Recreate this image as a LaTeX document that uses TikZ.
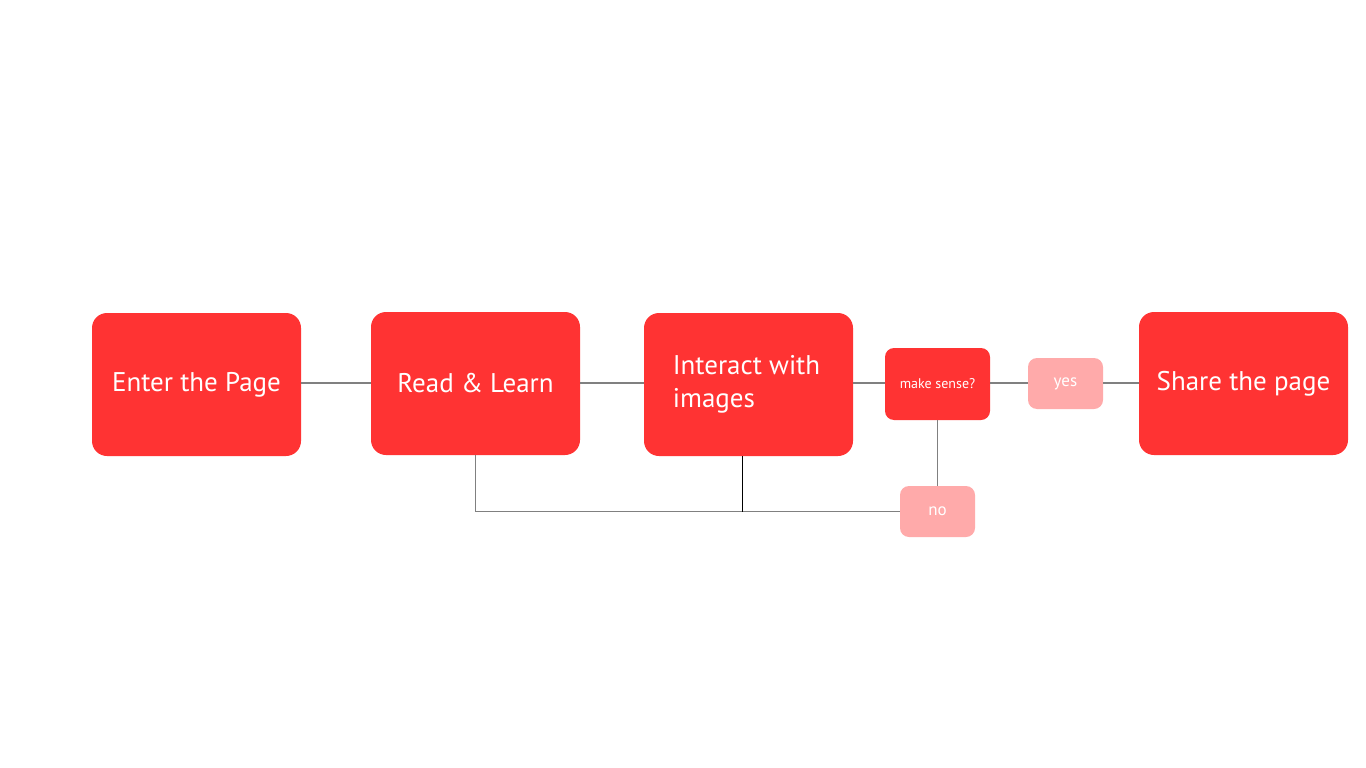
\documentclass[tikz,border=0pt]{standalone}
\usepackage{fontspec}
\setmainfont{PT Sans}
\definecolor{boxred}{HTML}{FF3333}
\definecolor{boxpink}{HTML}{FFAAAA}
\definecolor{linegray}{HTML}{808080}
\begin{document}
\begin{tikzpicture}[x=1pt,y=-1pt,
  bigbox/.style={fill=boxred, rounded corners=15pt, minimum width=209pt, minimum height=143pt, text=white, font=\fontsize{27}{33}\selectfont, inner sep=0pt},
  smallbox/.style={fill=boxred, rounded corners=9pt, minimum width=105pt, minimum height=72pt, text=white, font=\fontsize{14}{16}\selectfont, inner sep=0pt},
  pinkbox/.style={fill=boxpink, rounded corners=9pt, minimum width=75pt, minimum height=51pt, text=white, font=\fontsize{17}{20}\selectfont, inner sep=0pt},
  conn/.style={draw=linegray, line width=1.5pt},
  thinconn/.style={draw=black, line width=1pt}]
\useasboundingbox (0,0) rectangle (1366,768);
\node[bigbox] (enter) at (196.5,384.5) {\raisebox{-2pt}{Enter the Page}};
\node[bigbox] (read) at (475.5,383.5) {\raisebox{-5pt}{Read \& Learn}};
\node[bigbox, align=left] (inter) at (748.5,384.5) {\hspace*{-4pt}Interact with\\\hspace*{-4pt}images};
\node[smallbox] (make) at (937.5,384) {\raisebox{-1pt}{make sense?}};
\node[pinkbox] (yes) at (1065.5,383.5) {\raisebox{-2pt}{yes}};
\node[bigbox] (share) at (1243.5,383.5) {\raisebox{-2pt}{Share the page}};
\node[pinkbox] (no) at (937.5,511.5) {\raisebox{-1pt}{no}};
\draw[conn] (enter.east |- 0,383) -- (read.west |- 0,383);
\draw[conn] (read.east |- 0,383) -- (inter.west |- 0,383);
\draw[conn] (inter.east |- 0,383) -- (make.west |- 0,383);
\draw[conn] (make.east |- 0,383) -- (yes.west |- 0,383);
\draw[conn] (yes.east |- 0,383) -- (share.west |- 0,383);
\draw[conn] (make.south) -- (no.north);
\draw[conn] (no.west) -| (read.south);
\draw[thinconn] ([xshift=-6.5pt]inter.south) -- ([xshift=-6.5pt]inter.south |- no.west);
\end{tikzpicture}
\end{document}
